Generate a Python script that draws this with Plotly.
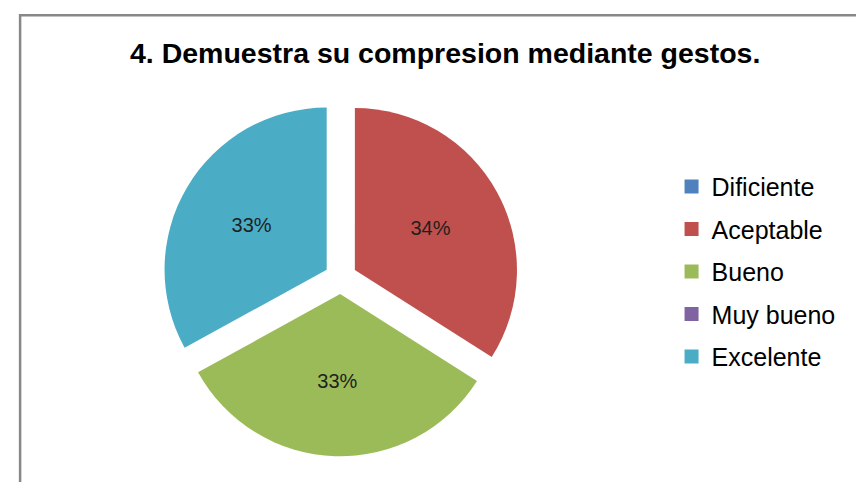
import plotly.graph_objects as go

categories = ["Dificiente", "Aceptable", "Bueno", "Muy bueno", "Excelente"]
values = [0, 34, 33, 0, 33]
colors = ["#4F81BD", "#C0504D", "#9BBB59", "#8064A2", "#4BACC6"]
title = "4. Demuestra su compresion mediante gestos."

fig = go.Figure()
fig.add_trace(go.Pie(
    labels=categories,
    values=values,
    sort=False,
    direction="clockwise",
    rotation=0,
    marker=dict(colors=colors, line=dict(color="white", width=0)),
    pull=[0.1] * len(values),
    textinfo="percent",
    texttemplate="%{percent:.0%}",
    textposition="inside",
    insidetextorientation="horizontal",
    textfont=dict(family="Liberation Sans, Arial", size=20, color="#1f1f1f"),
    domain=dict(x=[0.04, 0.73], y=[0.07, 0.81]),
    showlegend=False,
    hoverinfo="label+percent",
))

# legend entries (one per category, same colours as the slices)
for cat, col in zip(categories, colors):
    fig.add_trace(go.Scatter(
        x=[None], y=[None], mode="markers", name=cat, legendgroup=cat,
        marker=dict(symbol="square", size=14, color=col),
        showlegend=True, hoverinfo="skip",
    ))

fig.update_layout(
    width=864, height=482,
    margin=dict(l=0, r=0, t=0, b=0),
    paper_bgcolor="white",
    plot_bgcolor="white",
    xaxis=dict(visible=False),
    yaxis=dict(visible=False),
    title=dict(text="<b>" + title + "</b>", x=0.506, xanchor="center", y=0.907, yanchor="middle",
               font=dict(family="Liberation Sans, Arial", size=28.5, color="black")),
    legend=dict(x=0.768, y=0.677, xanchor="left", yanchor="top",
                font=dict(family="Liberation Sans, Arial", size=25, color="black"),
                itemwidth=30, tracegroupgap=7, bgcolor="rgba(0,0,0,0)"),
    shapes=[dict(type="rect", xref="paper", yref="paper", x0=0.014, y0=-0.05, x1=1.05, y1=0.985,
                 line=dict(color="#888888", width=2.5), fillcolor="rgba(0,0,0,0)")],
)

fig.write_html("out.html")
